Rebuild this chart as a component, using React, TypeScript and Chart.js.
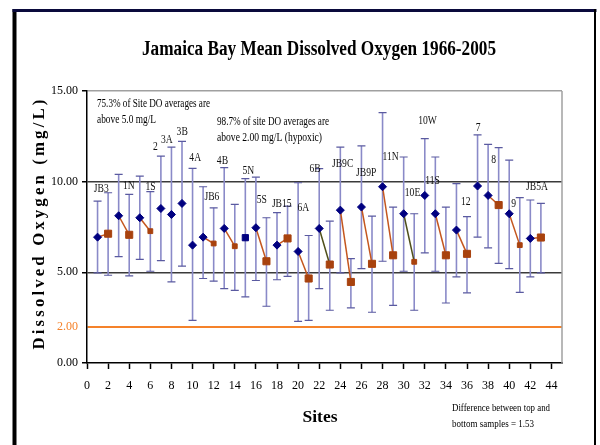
import React, { useEffect, useRef } from 'react';
import { Chart, registerables } from 'chart.js';

Chart.register(...registerables);

const SERIF = "'Liberation Serif', 'Times New Roman', serif";

// ---- Top-sample site means (blue diamonds) ----
const topX = [1, 3, 5, 7, 8, 9, 10, 11, 13, 16, 18, 20, 22, 24, 26, 28, 30, 32, 33, 35, 37, 38, 40, 42];
const topMean = [6.94, 8.12, 8.01, 8.52, 8.19, 8.8, 6.5, 6.94, 7.42, 7.46, 6.5, 6.15, 7.42, 8.43, 8.6, 9.72, 8.23, 9.24, 8.23, 7.33, 9.76, 9.24, 8.23, 6.87];
const topHi = [8.93, 10.4, 10.31, 11.41, 11.91, 12.22, 10.73, 9.72, 10.77, 10.25, 8.29, 9.94, 10.72, 11.91, 11.97, 13.81, 11.36, 12.37, 11.36, 9.89, 12.58, 12.06, 11.19, 8.99];
const topLo = [4.97, 5.87, 5.71, 5.65, 4.47, 5.34, 2.35, 4.66, 4.1, 4.55, 4.59, 2.3, 4.1, 4.97, 5.21, 5.61, 5.06, 6.07, 5.06, 4.75, 6.94, 6.35, 5.21, 4.75];

// ---- Site 5N (blue square) ----
const midX = [15];
const midMean = [6.91];
const midHi = [10.17];
const midLo = [3.65];

// ---- Bottom-sample site means (orange squares) ----
const botX = [2, 4, 17, 19, 21, 23, 25, 27, 29, 34, 36, 39, 43];
const botMean = [7.13, 7.07, 5.61, 6.87, 4.66, 5.43, 4.47, 5.47, 5.94, 5.94, 6.02, 8.71, 6.92];
const botHi = [9.39, 9.3, 8.01, 8.65, 7.03, 7.82, 5.76, 8.1, 8.6, 8.6, 8.07, 11.88, 8.8];
const botLo = [4.84, 4.8, 3.13, 4.78, 2.35, 2.91, 3.04, 2.8, 3.18, 3.31, 3.87, 5.49, 4.97];

// ---- Bottom-sample site means (small orange squares) ----
const botSmallX = [6, 12, 14, 31, 41];
const botSmallMean = [7.27, 6.59, 6.44, 5.58, 6.5];
const botSmallHi = [9.45, 8.56, 8.75, 8.23, 9.12];
const botSmallLo = [5.06, 4.51, 4.01, 2.91, 3.9];

// ---- Top/bottom pairs joined by a line ----
const pairs = [[1, 2], [3, 4], [5, 6], [11, 12], [13, 14], [16, 17], [18, 19], [20, 21], [24, 25], [26, 27], [28, 29], [33, 34], [35, 36], [38, 39], [40, 41], [42, 43]];
const darkPairs = [[22, 23], [30, 31]];

// ---- Site labels (anchored in data units) ----
const siteNames = ['JB3', '1N', '1S', '2', '3A', '3B', '4A', 'JB6', '4B', '5N', '5S', 'JB15', '6A', '6B', 'JB9C', 'JB9P', '11N', '10E', '10W', '11S', '12', '7', '8', '9', 'JB5A'];
const labelX = [1.35, 3.97, 6.02, 6.49, 7.57, 9.02, 10.25, 11.83, 12.83, 15.29, 16.56, 18.45, 20.5, 21.6, 24.22, 26.45, 28.76, 30.84, 32.26, 32.73, 35.88, 37.05, 38.53, 40.43, 42.63];
const labelY = [9.6, 9.76, 9.72, 11.91, 12.28, 12.74, 11.3, 9.17, 11.14, 10.59, 8.98, 8.8, 8.56, 10.68, 10.96, 10.5, 11.38, 9.39, 13.35, 10.07, 8.87, 12.98, 11.23, 8.78, 9.72];

// ---- Axes / texts ----
const yTickValues = [0, 2, 5, 10, 15];
const xMin = 0;
const xMax = 45;
const xStep = 2;
const yMin = 0;
const yMax = 15;
const hypoxicLevel = 2;
const titleText = 'Jamaica Bay Mean Dissolved Oxygen 1966-2005';
const yTitle = 'Dissolved Oxygen (mg/L)';
const xTitle = 'Sites';
const note1 = ['75.3% of Site DO averages are', 'above 5.0 mg/L'];
const note2 = ['98.7% of site DO averages are', 'above 2.00 mg/L (hypoxic)'];
const note3 = ['Difference between top and', 'bottom samples = 1.53'];

const ORANGE = '#F5822A';
const NAVY = '#000080';
const BROWN = '#A8420E';
const LINK = '#C4561E';
const DARKLINK = '#4F4F1A';
const ERR = '#8A8AC8';
const ERRCAP = '#5A5AA0';

const pts = (xs: number[], ys: number[]) => xs.map((x, i) => ({ x, y: ys[i] }));

const meanAt = (site: number): number => {
  const groups: [number[], number[]][] = [[topX, topMean], [midX, midMean], [botX, botMean], [botSmallX, botSmallMean]];
  for (const [xs, ys] of groups) {
    const i = xs.indexOf(site);
    if (i >= 0) return ys[i];
  }
  return NaN;
};

function txt(ctx: CanvasRenderingContext2D, s: string, x: number, y: number, font: string, o: any = {}) {
  const { align = 'left', sx = 1, width, color = '#000', rotate = 0, spacing } = o;
  ctx.save();
  ctx.font = font;
  if (spacing) (ctx as any).letterSpacing = spacing;
  const w = ctx.measureText(s).width;
  const k = width ? width / w : sx;
  ctx.translate(x, y);
  if (rotate) ctx.rotate(rotate);
  ctx.scale(k, 1);
  ctx.fillStyle = color;
  ctx.textAlign = align;
  ctx.textBaseline = 'middle';
  ctx.fillText(s, 0, 0);
  ctx.restore();
}

const framePlugin = {
  id: 'frame',
  beforeDraw(chart: any) {
    const ctx = chart.ctx;
    ctx.save();
    ctx.fillStyle = '#fff';
    ctx.fillRect(0, 0, chart.width, chart.height);
    ctx.fillStyle = '#000';
    ctx.fillRect(12.5, 9, 4, chart.height - 9);
    ctx.fillStyle = '#0a0a3c';
    ctx.fillRect(12.5, 9, 584, 3);
    ctx.fillStyle = '#000';
    ctx.fillRect(594, 9, 2, chart.height - 9);
    ctx.restore();
  },
};

const errorPlugin = {
  id: 'errbars',
  beforeDatasetsDraw(chart: any) {
    const { ctx, chartArea } = chart;
    const xs = chart.scales.x;
    const ys = chart.scales.y;
    ctx.save();
    // right plot border
    ctx.strokeStyle = '#a0a0a0';
    ctx.lineWidth = 1.5;
    ctx.beginPath();
    ctx.moveTo(chartArea.right, chartArea.top);
    ctx.lineTo(chartArea.right, chartArea.bottom);
    ctx.stroke();
    const groups: [number[], number[], number[]][] = [
      [topX, topHi, topLo],
      [midX, midHi, midLo],
      [botX, botHi, botLo],
      [botSmallX, botSmallHi, botSmallLo],
    ];
    for (const [gx, gh, gl] of groups) {
      gx.forEach((x, i) => {
        const px = xs.getPixelForValue(x);
        const ph = ys.getPixelForValue(gh[i]);
        const pl = ys.getPixelForValue(gl[i]);
        ctx.strokeStyle = ERR;
        ctx.lineWidth = 1.6;
        ctx.beginPath();
        ctx.moveTo(px, ph);
        ctx.lineTo(px, pl);
        ctx.stroke();
        ctx.strokeStyle = ERRCAP;
        ctx.lineWidth = 1.2;
        ctx.beginPath();
        ctx.moveTo(px - 4, ph);
        ctx.lineTo(px + 4, ph);
        ctx.moveTo(px - 4, pl);
        ctx.lineTo(px + 4, pl);
        ctx.stroke();
      });
    }
    ctx.restore();
  },
};

const textPlugin = {
  id: 'texts',
  afterDraw(chart: any) {
    const ctx = chart.ctx;
    const xs = chart.scales.x;
    const ys = chart.scales.y;
    txt(ctx, titleText, 319, 50, `bold 20px ${SERIF}`, { align: 'center', width: 354 });
    txt(ctx, yTitle, 40, 223, `bold 16px ${SERIF}`, { align: 'center', width: 253, rotate: -Math.PI / 2, spacing: '3px' });
    txt(ctx, xTitle, 320, 418, `bold 17px ${SERIF}`, { align: 'center', width: 35 });
    txt(ctx, note1[0], 97, 104, `12px ${SERIF}`, { width: 113 });
    txt(ctx, note1[1], 97, 120, `12px ${SERIF}`, { width: 59 });
    txt(ctx, note2[0], 217, 122, `12px ${SERIF}`, { width: 112 });
    txt(ctx, note2[1], 217, 138, `12px ${SERIF}`, { width: 105 });
    txt(ctx, note3[0], 452, 408, `11px ${SERIF}`, { width: 98 });
    txt(ctx, note3[1], 452, 424, `11px ${SERIF}`, { width: 82 });
    siteNames.forEach((n, i) => {
      txt(ctx, n, xs.getPixelForValue(labelX[i]), ys.getPixelForValue(labelY[i]), `12px ${SERIF}`, { align: 'center', sx: 0.8, color: '#111' });
    });
  },
};

export default function App() {
  const ref = useRef<HTMLCanvasElement>(null);
  useEffect(() => {
    if (!ref.current) return;
    const link = (p: number[], color: string) => ({
      type: 'scatter' as const,
      data: [{ x: p[0], y: meanAt(p[0]) }, { x: p[1], y: meanAt(p[1]) }],
      showLine: true,
      borderColor: color,
      borderWidth: 1.5,
      pointRadius: 0,
      pointHoverRadius: 0,
    });
    const chart = new Chart(ref.current, {
      type: 'scatter',
      data: {
        datasets: [
          { label: 'Top', data: pts(topX, topMean), pointStyle: 'rectRot', pointRadius: 4, backgroundColor: NAVY, borderColor: NAVY, borderWidth: 1 },
          { label: '5N', data: pts(midX, midMean), pointStyle: 'rect', pointRadius: 4.4, backgroundColor: NAVY, borderColor: NAVY, borderWidth: 1 },
          { label: 'Bottom', data: pts(botX, botMean), pointStyle: 'rect', pointRadius: 5, backgroundColor: BROWN, borderColor: BROWN, borderWidth: 1 },
          { label: 'BottomSmall', data: pts(botSmallX, botSmallMean), pointStyle: 'rect', pointRadius: 3.4, backgroundColor: BROWN, borderColor: BROWN, borderWidth: 1 },
          ...pairs.map((p) => link(p, LINK)),
          ...darkPairs.map((p) => link(p, DARKLINK)),
        ] as any,
      },
      options: {
        animation: false,
        responsive: false,
        devicePixelRatio: 1,
        layout: { padding: { left: 0, right: 38, top: 91, bottom: 0 } },
        plugins: { legend: { display: false }, tooltip: { enabled: false }, title: { display: false } },
        scales: {
          x: {
            type: 'linear',
            min: xMin,
            max: xMax,
            ticks: {
              stepSize: xStep,
              includeBounds: false,
              autoSkip: false,
              maxRotation: 0,
              color: '#000',
              padding: 10,
              font: { family: SERIF, size: 12 },
              callback: (v: any) => String(v),
            },
            grid: { drawOnChartArea: false, drawTicks: true, tickLength: 6, tickColor: '#000', tickWidth: 1.5 },
            border: { color: '#000', width: 1.5 },
            afterFit: (s: any) => { s.height = 82; },
          },
          y: {
            type: 'linear',
            min: yMin,
            max: yMax,
            afterBuildTicks: (s: any) => { s.ticks = yTickValues.map((v) => ({ value: v })); },
            ticks: {
              color: (c: any) => (c.tick && c.tick.value === hypoxicLevel ? ORANGE : '#000'),
              padding: 4,
              font: { family: SERIF, size: 12 },
              callback: (v: any) => Number(v).toFixed(2),
            },
            grid: {
              color: (c: any) => {
                const v = c.tick ? c.tick.value : null;
                if (v === 5 || v === 10) return '#3a3a3a';
                if (v === 15) return '#a0a0a0';
                if (v === hypoxicLevel) return ORANGE;
                return 'rgba(0,0,0,0)';
              },
              lineWidth: (c: any) => (c.tick && c.tick.value === hypoxicLevel ? 2 : 1.5),
              tickColor: (c: any) => (c.tick && c.tick.value === hypoxicLevel ? 'rgba(0,0,0,0)' : '#000'),
              tickLength: 5,
              tickWidth: 1.5,
            },
            border: { color: '#000', width: 1.5 },
            afterFit: (s: any) => { s.width = 87; },
          },
        },
      } as any,
      plugins: [framePlugin, errorPlugin, textPlugin],
    });
    return () => chart.destroy();
  }, []);
  return (
    <div style={{ position: 'absolute', left: 0, top: 0, width: 600, height: 445, background: '#fff' }}>
      <canvas ref={ref} width={600} height={445} style={{ display: 'block', width: 600, height: 445 }} />
    </div>
  );
}
